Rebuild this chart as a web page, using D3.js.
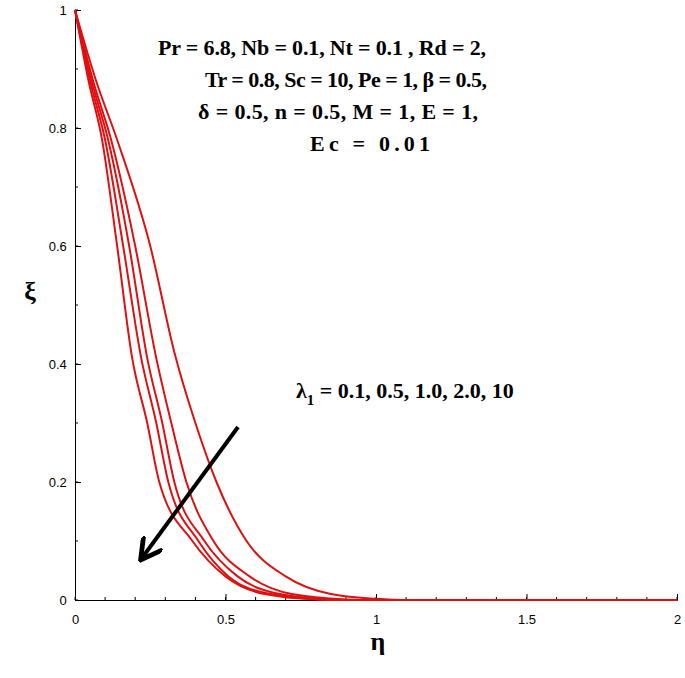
<!DOCTYPE html>
<html>
<head>
<meta charset="utf-8">
<script src="https://d3js.org/d3.v7.min.js"></script>
<style>
  body { margin: 0; background: #fff; }
  text { font-family: "Liberation Serif", serif; }
  .tick text { font-family: "Liberation Sans", Arial, sans-serif; font-size: 13px; }
  .note { font-weight: bold; font-size: 22px; }
</style>
</head>
<body>
<div id="viz"></div>
<script>
// readings from the picture: [eta, xi]
const curveA = [[0,1],[0.07,0.88],[0.14,0.78],[0.25,0.6],[0.33,0.42],[0.4,0.3],[0.47,0.2],[0.57,0.1],[0.7,0.04],[0.85,0.01],[1.0,0.002],[1.1,0],[2,0]];
const curveB = [[0,1],[0.06,0.88],[0.12,0.78],[0.2,0.6],[0.27,0.41],[0.32,0.3],[0.37,0.2],[0.46,0.1],[0.58,0.04],[0.72,0.01],[0.9,0.001],[1,0],[2,0]];
const curveC = [[0,1],[0.055,0.88],[0.11,0.78],[0.18,0.6],[0.24,0.41],[0.29,0.3],[0.33,0.2],[0.43,0.1],[0.54,0.04],[0.68,0.01],[0.85,0.001],[0.95,0],[2,0]];
const curveD = [[0,1],[0.05,0.88],[0.1,0.78],[0.16,0.6],[0.22,0.41],[0.27,0.3],[0.31,0.2],[0.41,0.1],[0.51,0.04],[0.65,0.01],[0.82,0.001],[0.92,0],[2,0]];
const curveE = [[0,1],[0.045,0.88],[0.09,0.78],[0.14,0.6],[0.19,0.41],[0.24,0.3],[0.28,0.2],[0.39,0.1],[0.5,0.04],[0.63,0.01],[0.8,0.001],[0.9,0],[2,0]];
const allCurves = [curveA, curveB, curveC, curveD, curveE];
const xTicks = [0, 0.5, 1, 1.5, 2];
const xTickLabels = ["0", "0.5", "1", "1.5", "2"];
const yTicks = [0, 0.2, 0.4, 0.6, 0.8, 1];
const yTickLabels = ["0", "0.2", "0.4", "0.6", "0.8", "1"];
const noteLines = [
  "Pr = 6.8,  Nb = 0.1,  Nt = 0.1 , Rd = 2,",
  "Tr = 0.8, Sc = 10,  Pe = 1,  β = 0.5,",
  "δ = 0.5,  n = 0.5, M = 1, E = 1,",
  "Ec = 0.01"
];

const W = 685, H = 678;
const svg = d3.select("#viz").append("svg").attr("width", W).attr("height", H);

const x = d3.scaleLinear().domain([0, 2]).range([75, 677]);
const y = d3.scaleLinear().domain([0, 1]).range([600, 10]);

svg.append("g")
  .attr("transform", `translate(0,${y(0)})`)
  .call(d3.axisBottom(x).tickValues(xTicks).tickFormat((d, i) => xTickLabels[i]).tickSize(-6))
  .call(g => g.selectAll(".tick text").attr("dy", "1.6em"))
  .call(g => g.append("g").selectAll("line")
    .data(d3.range(0, 2.01, 0.1)).join("line")
    .attr("x1", d => x(d)).attr("x2", d => x(d)).attr("y1", 0).attr("y2", -3).attr("stroke", "#000"));

svg.append("g")
  .attr("transform", `translate(${x(0)},0)`)
  .call(d3.axisLeft(y).tickValues(yTicks).tickFormat((d, i) => yTickLabels[i]).tickSize(-6))
  .call(g => g.selectAll(".tick text").attr("dx", "-0.4em"))
  .call(g => g.append("g").selectAll("line")
    .data(d3.range(0, 1.001, 0.1)).join("line")
    .attr("y1", d => y(d)).attr("y2", d => y(d)).attr("x1", 0).attr("x2", 3).attr("stroke", "#000"));

const line = d3.line().x(d => x(d[0])).y(d => y(d[1])).curve(d3.curveMonotoneX);
svg.append("g").selectAll("path").data(allCurves).join("path")
  .attr("d", line).attr("fill", "none").attr("stroke", "#e01010").attr("stroke-width", 2);

svg.append("text").attr("x", 30).attr("y", 300).attr("text-anchor", "middle")
  .attr("font-size", 26).attr("font-weight", "bold").text("ξ");
svg.append("text").attr("x", 378).attr("y", 650).attr("text-anchor", "middle")
  .attr("font-size", 26).attr("font-weight", "bold").text("η");

const noteX = [158, 205, 198, 310];
svg.append("g").selectAll("text").data(noteLines).join("text")
  .attr("class", "note").attr("x", (d, i) => noteX[i]).attr("y", (d, i) => 55 + i * 32)
  .attr("textLength", (d, i) => [328, 282, 280, 120][i]).text(d => d);

const lam = svg.append("text").attr("class", "note").attr("x", 296).attr("y", 398);
lam.append("tspan").text("λ");
lam.append("tspan").attr("font-size", 15).attr("dy", 7).text("1");
lam.append("tspan").attr("dy", -7).text(" = 0.1, 0.5, 1.0, 2.0, 10");

svg.append("defs").append("marker").attr("id", "ah").attr("viewBox", "0 0 10 10")
  .attr("refX", 8).attr("refY", 5).attr("markerWidth", 6).attr("markerHeight", 6).attr("orient", "auto")
  .append("path").attr("d", "M0,0 L9,5 L0,10").attr("fill", "none").attr("stroke", "#000").attr("stroke-width", 2);
svg.append("line").attr("x1", 238).attr("y1", 427).attr("x2", 142).attr("y2", 558)
  .attr("stroke", "#000").attr("stroke-width", 4).attr("marker-end", "url(#ah)");
</script>
</body>
</html>
